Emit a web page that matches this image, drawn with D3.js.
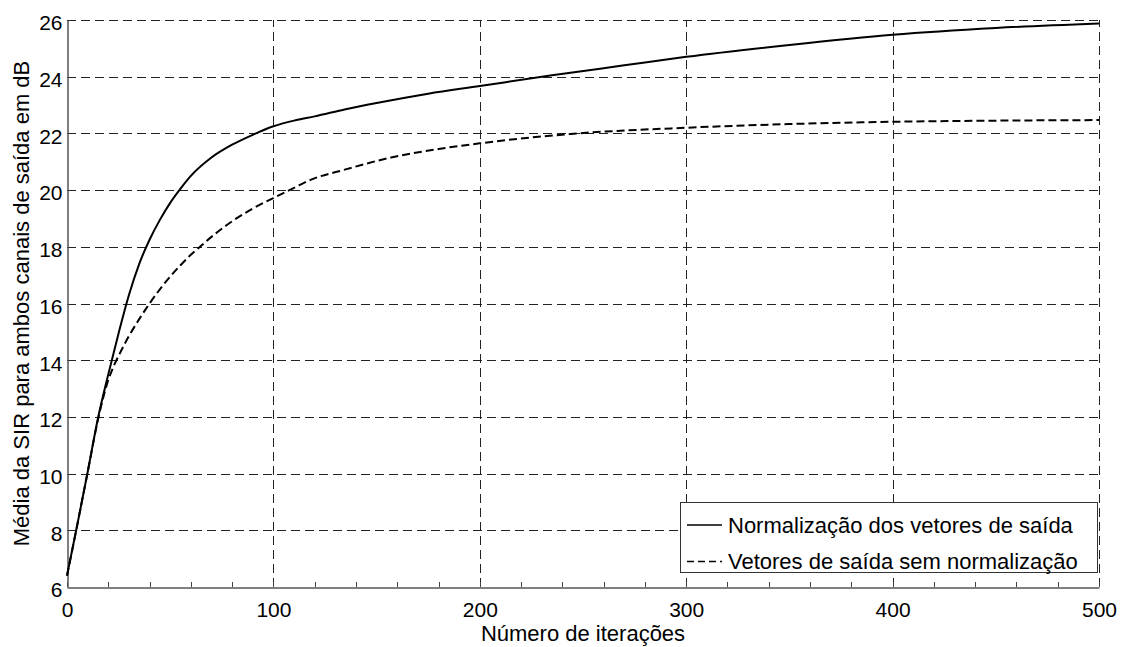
<!DOCTYPE html>
<html>
<head>
<meta charset="utf-8">
<script src="https://cdn.jsdelivr.net/npm/d3@7.9.0/dist/d3.min.js"></script>
<style>
  body { margin: 0; background: #fff; }
  svg { display: block; font-family: "Liberation Sans", Arial, sans-serif; }
</style>
</head>
<body>
<svg id="chart" width="1121" height="647"></svg>
<script>
const iterNorm = [0, 5, 10, 15, 20, 25, 30, 35, 40, 45, 50, 55, 60, 70, 80, 90, 100, 110, 120, 135, 150, 175, 200, 235, 270, 300, 350, 400, 450, 500];
const sirNorm = [6.4, 8.2, 10.05, 11.95, 13.5, 14.95, 16.3, 17.4, 18.25, 18.95, 19.55, 20.05, 20.5, 21.15, 21.6, 21.95, 22.25, 22.45, 22.6, 22.85, 23.07, 23.4, 23.67, 24.05, 24.4, 24.7, 25.12, 25.48, 25.72, 25.88];

const iterRaw = [0, 5, 10, 15, 20, 23, 26, 30, 35, 40, 45, 50, 55, 60, 66, 70, 80, 90, 100, 110, 118, 135, 157, 180, 200, 244, 300, 350, 400, 450, 500];
const sirRaw = [6.4, 8.2, 10.05, 11.9, 13.3, 13.85, 14.3, 14.85, 15.45, 16.0, 16.5, 16.95, 17.35, 17.72, 18.1, 18.35, 18.9, 19.35, 19.72, 20.08, 20.36, 20.73, 21.15, 21.45, 21.65, 21.98, 22.2, 22.33, 22.41, 22.45, 22.47];

const xTicks = [0, 100, 200, 300, 400, 500];
const xMinorTicks = d3.range(0, 501, 20);
const yTicks = [6, 8, 10, 12, 14, 16, 18, 20, 22, 24, 26];

const legendLabels = ["Normalização dos vetores de saída", "Vetores de saída sem normalização"];
const xLabel = "Número de iterações";
const yLabel = "Média da SIR para ambos canais de saída em dB";

const margin = { top: 20, right: 22, bottom: 60, left: 67 };
const width = 1121, height = 647;

const svg = d3.select('#chart');

const x = d3.scaleLinear().domain([0, 500]).range([margin.left, width - margin.right]);
const y = d3.scaleLinear().domain([6, 26]).range([height - margin.bottom, margin.top]);

// grid
const grid = svg.append('g').attr('stroke', '#222').attr('stroke-width', 1).attr('stroke-dasharray', '9,5');
grid.selectAll('line.h')
  .data(yTicks.filter(d => d > 6))
  .join('line')
  .attr('x1', x(0)).attr('x2', x(500))
  .attr('y1', d => Math.round(y(d)) + 0.5).attr('y2', d => Math.round(y(d)) + 0.5);
grid.selectAll('line.v')
  .data(xTicks.filter(d => d > 0))
  .join('line')
  .attr('y1', y(6)).attr('y2', y(26))
  .attr('x1', d => Math.round(x(d)) + 0.5).attr('x2', d => Math.round(x(d)) + 0.5);

// minor ticks along the bottom
svg.append('g')
  .selectAll('line')
  .data(xMinorTicks)
  .join('line')
  .attr('x1', d => Math.round(x(d)) + 0.5).attr('x2', d => Math.round(x(d)) + 0.5)
  .attr('y1', y(6)).attr('y2', y(6) - 5)
  .attr('stroke', '#444');

// axes
const xAxis = svg.append('g')
  .attr('transform', `translate(0,${Math.round(y(6)) + 0.5})`)
  .call(d3.axisBottom(x).tickValues(xTicks).tickSize(0).tickPadding(6));
const yAxis = svg.append('g')
  .attr('transform', `translate(${Math.round(x(0)) + 0.5},0)`)
  .call(d3.axisLeft(y).tickValues(yTicks).tickSize(0).tickPadding(5));
[xAxis, yAxis].forEach(a => {
  a.select('.domain').attr('stroke', '#555').attr('stroke-width', 1.5);
  a.selectAll('text').attr('font-size', 21).attr('fill', '#000')
    .attr('font-family', '"Liberation Sans", Arial, sans-serif');
});
xAxis.selectAll('text').attr('dy', '1.1em');
yAxis.selectAll('text').attr('dy', '0.47em');

// curves
const line = d3.line().x(d => x(d[0])).y(d => y(d[1])).curve(d3.curveMonotoneX);
svg.append('path')
  .datum(d3.zip(iterNorm, sirNorm))
  .attr('d', line)
  .attr('fill', 'none').attr('stroke', '#000').attr('stroke-width', 2);
svg.append('path')
  .datum(d3.zip(iterRaw, sirRaw))
  .attr('d', line)
  .attr('fill', 'none').attr('stroke', '#000').attr('stroke-width', 2)
  .attr('stroke-dasharray', '8,4');

// legend
const lg = svg.append('g');
lg.append('rect')
  .attr('x', 680.5).attr('y', 502.5).attr('width', 417).attr('height', 70)
  .attr('fill', '#fff').attr('stroke', '#333').attr('stroke-width', 1);
legendLabels.forEach((label, i) => {
  const cy = 525 + i * 36.5;
  lg.append('line')
    .attr('x1', 687).attr('x2', 722).attr('y1', cy).attr('y2', cy)
    .attr('stroke', '#000').attr('stroke-width', 1.5)
    .attr('stroke-dasharray', i === 1 ? '7,4' : null);
  lg.append('text')
    .attr('x', 728).attr('y', cy).attr('dy', '0.36em')
    .attr('font-size', 22).text(label);
});

// axis labels
svg.append('text')
  .attr('x', (x(0) + x(500)) / 2).attr('y', 641)
  .attr('text-anchor', 'middle').attr('font-size', 22).text(xLabel);
svg.append('text')
  .attr('transform', `translate(29,${(y(6) + y(26)) / 2}) rotate(-90)`)
  .attr('text-anchor', 'middle').attr('font-size', 22).text(yLabel);
</script>
</body>
</html>
